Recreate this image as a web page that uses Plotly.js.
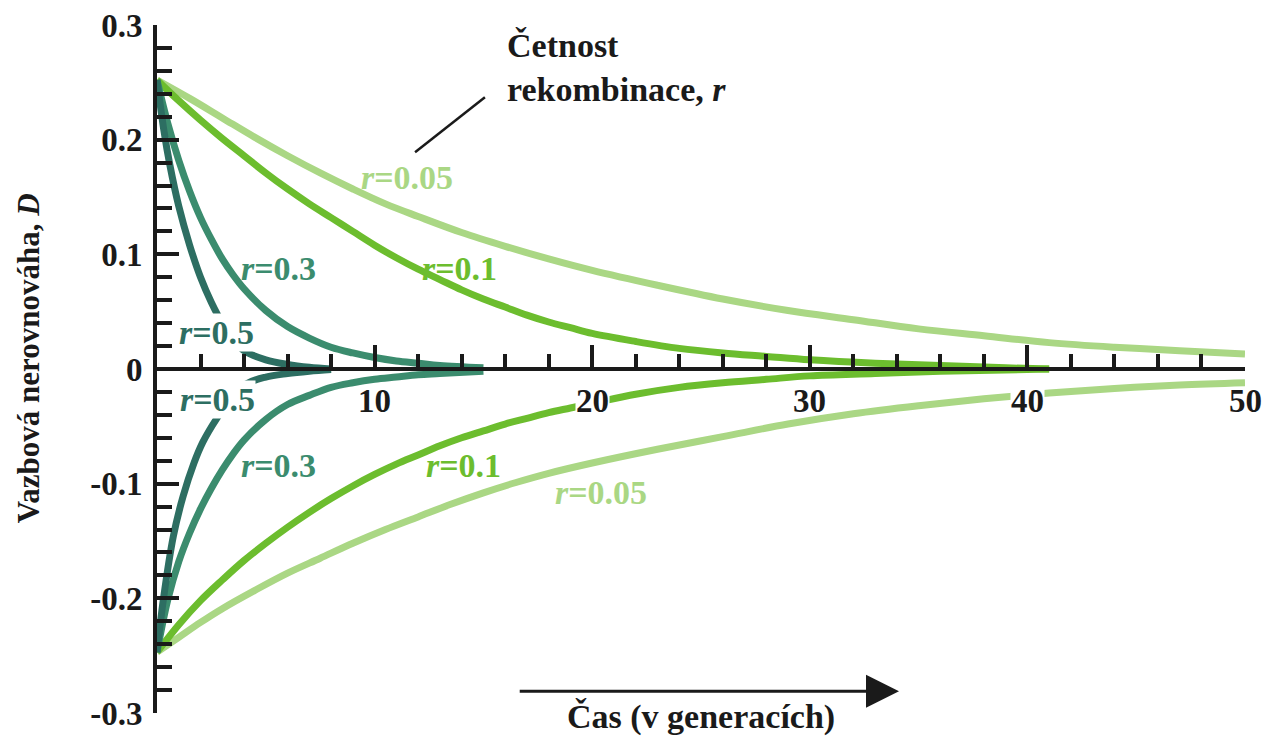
<!DOCTYPE html>
<html>
<head>
<meta charset="utf-8">
<script src="https://cdn.plot.ly/plotly-3.0.1.min.js"></script>
<style>html,body{margin:0;padding:0;background:#fff;}</style>
</head>
<body>
<div id="chart" style="width:1265px;height:739px;"></div>
<script>
// ---- data ----
const posR005X = [0, 1.5, 3, 4.5, 6, 7.5, 9, 10.5, 12, 14, 16, 18, 20, 23, 26, 29, 32, 35, 38, 41, 44, 47, 50];
const posR005Y = [0.252, 0.236, 0.219, 0.202, 0.186, 0.171, 0.157, 0.144, 0.133, 0.119, 0.107, 0.096, 0.086, 0.073, 0.061, 0.051, 0.043, 0.035, 0.029, 0.023, 0.019, 0.016, 0.013];

const posR01X = [0, 1, 2, 3, 4, 5, 6, 7, 8, 9, 10, 11, 12, 13, 14, 15, 16, 17, 18, 19, 20, 22, 24, 26, 28, 30, 33, 36, 39, 41];
const posR01Y = [0.252, 0.234, 0.217, 0.201, 0.186, 0.171, 0.157, 0.144, 0.132, 0.120, 0.108, 0.097, 0.087, 0.078, 0.069, 0.061, 0.054, 0.047, 0.041, 0.036, 0.031, 0.024, 0.018, 0.014, 0.011, 0.008, 0.005, 0.003, 0.001, 0.0];

const posR03X = [0, 0.5, 1, 1.5, 2, 2.5, 3, 3.5, 4, 5, 6, 7, 8, 9, 10, 11, 12, 13, 15];
const posR03Y = [0.252, 0.214, 0.182, 0.155, 0.132, 0.113, 0.096, 0.082, 0.070, 0.051, 0.037, 0.027, 0.019, 0.014, 0.010, 0.007, 0.005, 0.003, 0.001];

const posR05X = [0, 0.3, 0.6, 1, 1.5, 2, 2.5, 3, 3.5, 4, 5, 6, 7, 8];
const posR05Y = [0.252, 0.210, 0.177, 0.142, 0.108, 0.080, 0.058, 0.040, 0.026, 0.016, 0.008, 0.004, 0.0015, 0.0];

const negR005X = [0, 1, 2, 3, 4.5, 6, 7.5, 9, 10.5, 12, 13.5, 15, 16.5, 18, 20, 23, 26, 29, 32, 35, 38, 41, 44, 47, 50];
const negR005Y = [-0.247, -0.234, -0.221, -0.209, -0.193, -0.178, -0.165, -0.152, -0.140, -0.129, -0.118, -0.108, -0.099, -0.091, -0.082, -0.070, -0.059, -0.048, -0.039, -0.032, -0.026, -0.021, -0.017, -0.014, -0.012];

const negR01X = [0, 1, 2, 3, 4, 5, 6, 7, 8, 9, 10, 11, 12, 13, 14, 15, 16, 17, 18, 19, 20, 22, 24, 26, 28, 30, 33, 36, 41];
const negR01Y = [-0.247, -0.223, -0.202, -0.184, -0.167, -0.152, -0.138, -0.125, -0.113, -0.102, -0.092, -0.083, -0.075, -0.067, -0.060, -0.054, -0.048, -0.043, -0.038, -0.034, -0.030, -0.022, -0.016, -0.012, -0.009, -0.006, -0.004, -0.002, 0.0];

const negR03X = [0, 0.5, 1, 1.5, 2, 2.5, 3, 3.5, 4, 5, 6, 7, 8, 9, 10, 11, 12, 13, 15];
const negR03Y = [-0.247, -0.201, -0.168, -0.143, -0.122, -0.104, -0.088, -0.074, -0.062, -0.044, -0.031, -0.023, -0.016, -0.012, -0.009, -0.007, -0.005, -0.004, -0.002];

const negR05X = [0, 0.3, 0.75, 1.2, 1.7, 2.1, 2.75, 3.4, 4.1, 5, 6, 7, 8];
const negR05Y = [-0.247, -0.200, -0.146, -0.111, -0.082, -0.064, -0.043, -0.026, -0.013, -0.007, -0.004, -0.002, -0.0005];

const yTickVals = [-0.3, -0.2, -0.1, 0, 0.1, 0.2, 0.3];
const yTickText = ['-0.3', '-0.2', '-0.1', '0', '0.1', '0.2', '0.3'];
const xTickVals = [10, 20, 30, 40, 50];
const xTickText = ['10', '20', '30', '40', '50'];

// ---- styling ----
const C005 = '#aad784', C01 = '#6cbd2e', C03 = '#3b8c6e', C05 = '#2d6e62';
const INK = '#1a1a1a';
const SERIF = 'Liberation Serif';
const LW = 7;

function line(x, y, color) {
  return {x: x, y: y, type: 'scatter', mode: 'lines', hoverinfo: 'skip',
          line: {color: color, width: LW, shape: 'spline', smoothing: 1}, showlegend: false};
}
const traces = [
  line(posR005X, posR005Y, C005), line(negR005X, negR005Y, C005),
  line(posR01X, posR01Y, C01), line(negR01X, negR01Y, C01),
  line(posR03X, posR03Y, C03), line(negR03X, negR03Y, C03),
  line(posR05X, posR05Y, C05), line(negR05X, negR05Y, C05)
];

function fnt(size, color) {
  return {family: SERIF, size: size, color: color, weight: 'bold'};
}
function lab(text, x, y, color, bg) {
  return {text: text, x: x, y: y, xref: 'x', yref: 'y', showarrow: false,
          xanchor: 'center', yanchor: 'middle', font: fnt(34, color),
          bgcolor: bg ? '#ffffff' : 'rgba(0,0,0,0)', borderpad: 0};
}
const annotations = [
  lab('<i>r</i>=0.05', 11.5, 0.167, C005, false),
  lab('<i>r</i>=0.1', 13.9, 0.088, C01, false),
  lab('<i>r</i>=0.3', 5.6, 0.088, C03, false),
  lab('<i>r</i>=0.5', 2.75, 0.032, C05, true),
  lab('<i>r</i>=0.5', 2.8, -0.027, C05, true),
  lab('<i>r</i>=0.3', 5.6, -0.084, C03, false),
  lab('<i>r</i>=0.1', 14.1, -0.084, C01, false),
  lab('<i>r</i>=0.05', 20.4, -0.108, C005, false)
];
const tickBg = {20: true, 40: true};
xTickVals.forEach(function (v, i) {
  annotations.push({text: xTickText[i], x: v, y: -0.028, xref: 'x', yref: 'y', showarrow: false,
    xanchor: 'center', yanchor: 'middle', bgcolor: tickBg[v] ? '#ffffff' : 'rgba(0,0,0,0)',
    borderpad: 0, font: fnt(33, INK)});
});
annotations.push({
  text: 'Četnost<br>rekombinace, <i>r</i>', x: 16.0, y: 1.0, xref: 'x', yref: 'paper',
  xanchor: 'left', yanchor: 'top', align: 'left', showarrow: false, font: fnt(34, INK)
});
annotations.push({
  text: 'Vazbová nerovnováha, <i>D</i>', textangle: -90, x: -0.118, y: 0.515,
  xref: 'paper', yref: 'paper', xanchor: 'center', yanchor: 'middle', showarrow: false, font: fnt(31, INK)
});
annotations.push({
  text: 'Čas (v generacích)', x: 25, y: -0.037, xref: 'x', yref: 'paper',
  xanchor: 'center', yanchor: 'bottom', showarrow: false, font: fnt(34, INK)
});
annotations.push({
  text: '', x: 34.1, y: -0.281, ax: 16.6, ay: -0.281, xref: 'x', yref: 'y', axref: 'x', ayref: 'y',
  showarrow: true, arrowhead: 2, arrowsize: 2.2, arrowwidth: 3, arrowcolor: INK
});

const layout = {
  width: 1265, height: 739,
  margin: {l: 157, r: 20, t: 25, b: 26, pad: 0},
  paper_bgcolor: '#ffffff', plot_bgcolor: '#ffffff',
  font: {family: SERIF, color: INK},
  showlegend: false,
  xaxis: {
    range: [0, 50], anchor: 'free', position: 0.5, side: 'bottom',
    showline: true, linewidth: 4, linecolor: INK, zeroline: false, showgrid: false,
    tickmode: 'linear', tick0: 0, dtick: 10, ticks: 'inside', ticklen: 22, tickwidth: 3.5, tickcolor: INK,
    showticklabels: false,
    minor: {tickmode: 'linear', tick0: 0, dtick: 2, ticks: 'inside', ticklen: 13, tickwidth: 3.5, tickcolor: INK, showgrid: false},
    fixedrange: true
  },
  yaxis: {
    range: [-0.3, 0.3], anchor: 'x',
    showline: true, linewidth: 4, linecolor: INK, zeroline: false, showgrid: false,
    tickmode: 'array', tickvals: yTickVals, ticktext: yTickText,
    ticks: 'inside', ticklen: 22, tickwidth: 3.5, tickcolor: INK,
    ticklabelstandoff: 4,
    tickfont: fnt(33, INK),
    minor: {tickmode: 'linear', tick0: 0, dtick: 0.02, ticks: 'inside', ticklen: 15, tickwidth: 3.5, tickcolor: INK, showgrid: false},
    fixedrange: true
  },
  shapes: [
    {type: 'line', xref: 'x', yref: 'y', x0: 11.86, y0: 0.189, x1: 15.07, y1: 0.237,
     line: {color: INK, width: 2.5}}
  ],
  annotations: annotations
};

Plotly.newPlot('chart', traces, layout, {displayModeBar: false});
</script>
</body>
</html>
